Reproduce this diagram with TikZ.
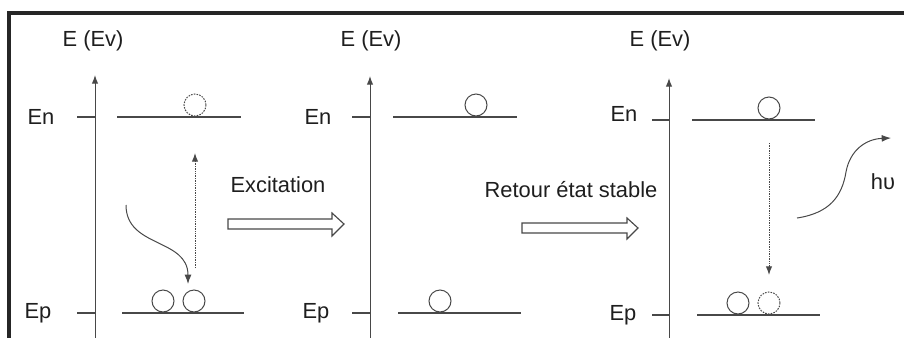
\documentclass[tikz,border=0pt]{standalone}
\usepackage{fontspec}
\setmainfont{Liberation Sans}
\usetikzlibrary{arrows.meta}
\definecolor{ln}{HTML}{484848}
\definecolor{tx}{HTML}{1E1E1E}
\begin{document}
\begin{tikzpicture}[x=0.75pt,y=-0.75pt,
  lbl/.style={text=tx,font=\fontsize{16.4}{19}\selectfont,inner sep=0pt},
  axis/.style={draw=ln,line width=0.75pt,-{Latex[length=6.5pt,width=4.8pt]}},
  level/.style={draw=ln,line width=0.85pt},
  elec/.style={circle,draw=ln,line width=0.75pt,minimum size=16.5pt,inner sep=0pt},
  ghost/.style={elec,dash pattern=on 1.2pt off 0.9pt},
  trans/.style={draw=ln,line width=0.75pt,dash pattern=on 1pt off 0.8pt,-{Latex[length=6.5pt,width=4.8pt]}},
  curvy/.style={draw=ln,line width=0.75pt,-{Latex[length=7pt,width=5.2pt]}},
  hollow/.style={draw=ln,line width=0.85pt,fill=white},
  frame/.style={draw=black!85,line width=2.6pt}
]
\useasboundingbox (0,0) rectangle (904,337);
\coordinate (fb) at (9,360);
\coordinate (fc) at (9,13);
\coordinate (fr) at (930,13);
\draw[frame] (fb) -- (fc) -- (fr);

% ---------- Panel 1 ----------
\node[lbl] (t1) at (93,41) {E (Ev)};
\coordinate (a1b) at (95,340); \coordinate (a1t) at (95,75);
\draw[axis] (a1b) -- (a1t);
\node[lbl] (en1) at (41,117) {En};
\coordinate (n1a) at (77,117); \coordinate (n1b) at (95,117);
\draw[level] (n1a) -- (n1b);
\coordinate (L1a) at (117,117); \coordinate (L1b) at (241,117);
\draw[level] (L1a) -- (L1b);
\node[lbl] (ep1) at (38,313) {Ep};
\coordinate (p1a) at (77,313); \coordinate (p1b) at (95,313);
\draw[level] (p1a) -- (p1b);
\coordinate (P1a) at (122,313); \coordinate (P1b) at (244,313);
\draw[level] (P1a) -- (P1b);
\node[ghost,anchor=south] (g1) at (195,116.5) {};
\node[elec,anchor=south] (c1a) at (163,312.5) {};
\node[elec,anchor=south] (c1b) at (194,312.5) {};
\coordinate (d1s) at (195,268); \coordinate (d1e) at (195,153);
\draw[trans] (d1s) -- (d1e);
\coordinate (w1s) at (126,205); \coordinate (w1e) at (188,284);
\draw[curvy] (w1s) .. controls (126,248) and (188,238) .. (w1e);

% ---------- Excitation ----------
\node[lbl] (ex) at (278,185) {Excitation};
\draw[hollow] (228,219) -- (332,219) -- (332,213) -- (344,224) -- (332,236) -- (332,229) -- (228,229) -- cycle;

% ---------- Panel 2 ----------
\node[lbl] (t2) at (371,41) {E (Ev)};
\coordinate (a2b) at (370,340); \coordinate (a2t) at (370,76);
\draw[axis] (a2b) -- (a2t);
\node[lbl] (en2) at (318,117) {En};
\coordinate (n2a) at (352,117); \coordinate (n2b) at (370,117);
\draw[level] (n2a) -- (n2b);
\coordinate (L2a) at (393,117); \coordinate (L2b) at (517,117);
\draw[level] (L2a) -- (L2b);
\node[lbl] (ep2) at (316,313) {Ep};
\coordinate (p2a) at (352,313); \coordinate (p2b) at (370,313);
\draw[level] (p2a) -- (p2b);
\coordinate (P2a) at (398,313); \coordinate (P2b) at (521,313);
\draw[level] (P2a) -- (P2b);
\node[elec,anchor=south] (c2a) at (476,116.5) {};
\node[elec,anchor=south] (c2b) at (440,312.5) {};

% ---------- Retour ----------
\node[lbl] (rt) at (571,190) {Retour état stable};
\draw[hollow] (522,223) -- (627,223) -- (627,218) -- (638,228) -- (627,239) -- (627,233) -- (522,233) -- cycle;

% ---------- Panel 3 ----------
\node[lbl] (t3) at (660,41) {E (Ev)};
\coordinate (a3b) at (669,340); \coordinate (a3t) at (669,78);
\draw[axis] (a3b) -- (a3t);
\node[lbl] (en3) at (624,114) {En};
\coordinate (n3a) at (652,120); \coordinate (n3b) at (669,120);
\draw[level] (n3a) -- (n3b);
\coordinate (L3a) at (692,120); \coordinate (L3b) at (815,120);
\draw[level] (L3a) -- (L3b);
\node[lbl] (ep3) at (623,315) {Ep};
\coordinate (p3a) at (652,315); \coordinate (p3b) at (669,315);
\draw[level] (p3a) -- (p3b);
\coordinate (P3a) at (697,315); \coordinate (P3b) at (820,315);
\draw[level] (P3a) -- (P3b);
\node[elec,anchor=south] (c3a) at (769,119.5) {};
\node[elec,anchor=south] (c3b) at (738,314.5) {};
\node[ghost,anchor=south] (g3) at (769,314.5) {};
\coordinate (d3s) at (769,143); \coordinate (d3e) at (769,275);
\draw[trans] (d3s) -- (d3e);
\coordinate (h3s) at (797,218); \coordinate (h3m) at (846,172); \coordinate (h3e) at (891,138);
\draw[curvy] (h3s) .. controls (830,213) and (842,196) .. (h3m) .. controls (850,150) and (866,139) .. (h3e);
\node[lbl] (hv) at (883,182) {hυ};
\end{tikzpicture}
\end{document}
